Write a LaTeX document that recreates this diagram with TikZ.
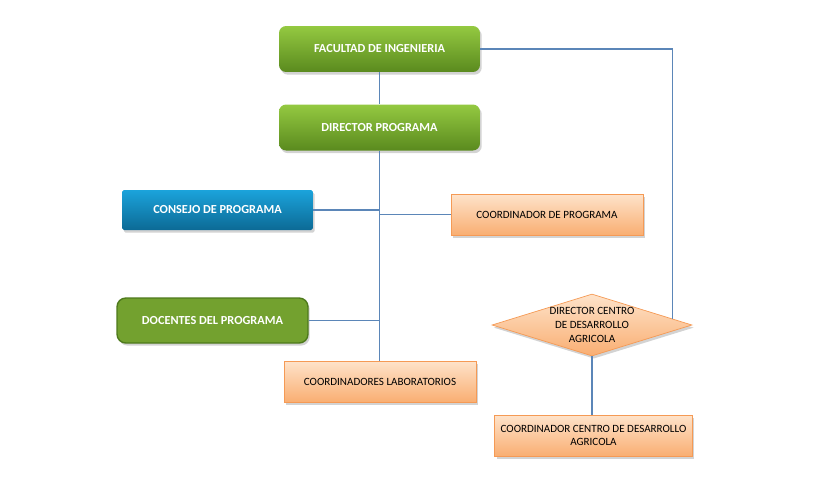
\documentclass[tikz,border=0pt]{standalone}
\usepackage{fontspec}
\setmainfont{Carlito}
\usetikzlibrary{shapes.geometric,shadows,calc}
\definecolor{grtop}{HTML}{94C941}
\definecolor{grbot}{HTML}{5A8A1E}
\definecolor{bltop}{HTML}{1BA3DB}
\definecolor{blbot}{HTML}{0C6A95}
\definecolor{ortop}{HTML}{FEE3CA}
\definecolor{orbot}{HTML}{F9AE72}
\definecolor{orline}{HTML}{F59A55}
\definecolor{docfill}{HTML}{73A12F}
\definecolor{docline}{HTML}{4E7A1C}
\definecolor{wire}{HTML}{5B86B8}
\begin{document}
\begin{tikzpicture}[x=.02cm, y=-.02cm,
	shad/.style={drop shadow={shadow xshift=1pt, shadow yshift=-1.5pt, opacity=.35}},
	greenbox/.style={shad, rounded corners=4pt, top color=grtop, bottom color=grbot, text=white, font=\fontsize{7}{8.5}\selectfont\bfseries, minimum width=4.02cm, minimum height=.92cm},
	bluebox/.style={shad, rounded corners=1pt, top color=bltop, bottom color=blbot, text=white, font=\fontsize{7}{8.5}\selectfont\bfseries, minimum width=3.82cm, minimum height=.8cm},
	docbox/.style={shad, rounded corners=5pt, fill=docfill, draw=docline, line width=.8pt, text=white, font=\fontsize{7}{8.5}\selectfont\bfseries, minimum width=3.82cm, minimum height=.9cm},
	orbox/.style={shad, top color=ortop, bottom color=orbot, draw=orline, line width=.4pt, font=\fontsize{6.3}{7.8}\selectfont, minimum width=3.84cm, minimum height=.82cm, align=center},
	ordiam/.style={shad, diamond, aspect=3.2, inner sep=0pt, top color=ortop, bottom color=orbot, draw=orline, line width=.4pt, font=\fontsize{6.3}{7.8}\selectfont, minimum width=4cm, minimum height=1.24cm, align=center},
	wire/.style={draw=wire, line width=.6pt}]
	\useasboundingbox (0,0) rectangle (815,484);
	\node[greenbox] (fac)   at (379.5,49)    {FACULTAD DE INGENIERIA};
	\node[greenbox] (dir)   at (379.5,127.5) {DIRECTOR PROGRAMA};
	\node[bluebox]  (cons)  at (217.5,210)   {CONSEJO DE PROGRAMA};
	\node[orbox]    (coord) at (547,214.5)   {COORDINADOR DE PROGRAMA};
	\node[docbox]   (doc)   at (212.5,320.5) {DOCENTES DEL PROGRAMA};
	\node[orbox]    (lab)   at (380,381.5)   {COORDINADORES LABORATORIOS};
	\node[ordiam]   (dcda)  at (592,325)     {DIRECTOR CENTRO\\DE DESARROLLO\\AGRICOLA};
	\node[orbox]    (ccda)  at (593.5,435.5) {COORDINADOR CENTRO DE DESARROLLO\\AGRICOLA};
	\coordinate (dcdaedge) at ($(dcda.east)!.2!(dcda.north)$);
	\draw[wire] (fac) -- (dir);
	\draw[wire] (dir.south) -- (dir.south |- lab.north);
	\draw[wire] (cons.east) -- (cons.east -| dir.south);
	\draw[wire] (coord.west) -- (coord.west -| dir.south);
	\draw[wire] (doc.east) -- (doc.east -| dir.south);
	\draw[wire] (fac.east) -| (dcdaedge);
	\draw[wire] (dcda.south) -- (dcda.south |- ccda.north);
\end{tikzpicture}
\end{document}
